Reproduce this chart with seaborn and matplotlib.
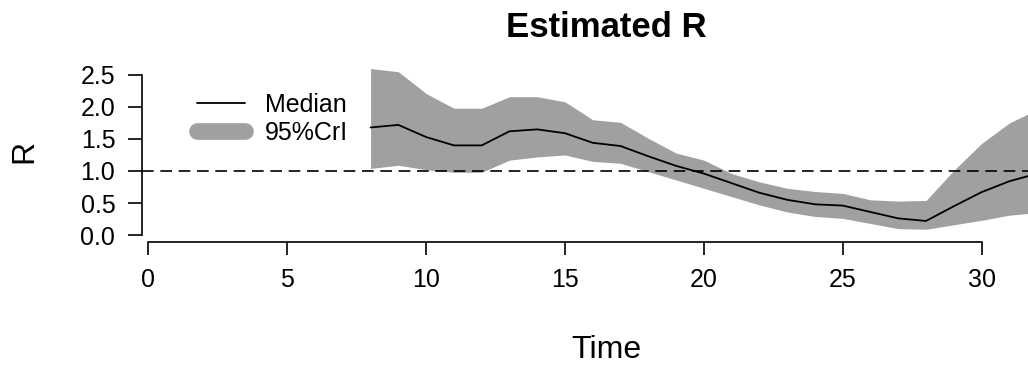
import matplotlib
matplotlib.use("Agg")
import matplotlib.pyplot as plt
from matplotlib.lines import Line2D
import seaborn as sns
import pandas as pd

# ---- data ----
time = [8, 9, 10, 11, 12, 13, 14, 15, 16, 17, 18, 19, 20,
        21, 22, 23, 24, 25, 26, 27, 28, 29, 30, 31, 32]
median_r = [1.68, 1.72, 1.53, 1.40, 1.40, 1.62, 1.65, 1.59, 1.44, 1.39, 1.23, 1.08, 0.96,
            0.81, 0.66, 0.55, 0.48, 0.46, 0.36, 0.26, 0.22, 0.45, 0.67, 0.84, 0.96]
upper_r = [2.60, 2.55, 2.21, 1.98, 1.98, 2.16, 2.16, 2.08, 1.80, 1.76, 1.51, 1.28, 1.17,
           0.96, 0.83, 0.73, 0.68, 0.65, 0.55, 0.53, 0.54, 1.01, 1.43, 1.75, 1.96]
lower_r = [1.04, 1.09, 1.02, 0.98, 0.98, 1.17, 1.22, 1.25, 1.15, 1.12, 0.99, 0.86, 0.73,
           0.60, 0.47, 0.36, 0.29, 0.26, 0.18, 0.10, 0.09, 0.16, 0.23, 0.31, 0.35]
x_ticks = [0, 5, 10, 15, 20, 25, 30]
y_ticks = [0.0, 0.5, 1.0, 1.5, 2.0, 2.5]
threshold = 1.0

df = pd.DataFrame({"Time": time, "Median": median_r, "Upper": upper_r, "Lower": lower_r})

sns.set_style("ticks")
plt.rcParams["font.family"] = ["Liberation Sans", "DejaVu Sans"]
plt.rcParams["text.color"] = "black"
plt.rcParams["axes.labelcolor"] = "black"

band_color = "#A0A0A0"

fig = plt.figure(figsize=(10.28, 3.69), dpi=100)
ax = fig.add_axes([0.1379, 0.345, 0.9045, 0.4873])

ax.fill_between(df["Time"], df["Lower"], df["Upper"], color=band_color, linewidth=0, zorder=1)
sns.lineplot(data=df, x="Time", y="Median", color="black", linewidth=1.3, ax=ax, zorder=3)
ax.axhline(threshold, color="black", linewidth=1.2, dashes=(7, 4), zorder=4)

ax.set_xlim(-0.24, 33.24)
ax.set_ylim(-0.104, 2.704)
ax.set_xticks(x_ticks)
ax.set_xticklabels([str(v) for v in x_ticks])
ax.set_yticks(y_ticks)
ax.set_yticklabels([f"{v:.1f}" for v in y_ticks])

for side in ("top", "right"):
    ax.spines[side].set_visible(False)
ax.spines["left"].set_bounds(0, 2.5)
ax.spines["bottom"].set_bounds(0, 30)
for side in ("left", "bottom"):
    ax.spines[side].set_linewidth(1.2)
    ax.spines[side].set_color("black")

ax.tick_params(axis="x", direction="out", length=9, width=1.2, pad=10, labelsize=18,
               colors="black", labelcolor="black")
ax.tick_params(axis="y", direction="out", length=10, width=1.2, pad=9, labelsize=18,
               colors="black", labelcolor="black")

ax.set_title("Estimated R", fontsize=25, fontweight="bold", pad=18, color="black")
ax.set_xlabel("Time", fontsize=23, color="black")
ax.set_ylabel("R", fontsize=23, color="black")
ax.xaxis.set_label_coords(0.5, -0.519)
ax.yaxis.set_label_coords(-0.1100, 0.5)

handles = [Line2D([], [], color="black", linewidth=1.3),
           Line2D([], [], color=band_color, linewidth=12, solid_capstyle="round")]
leg = ax.legend(handles, ["Median", "95%CrI"], loc="upper left",
                bbox_to_anchor=(0.1916, 0.749), bbox_transform=fig.transFigure,
                frameon=False, fontsize=18, handlelength=1.92, handletextpad=0.8,
                labelspacing=0.16, borderpad=0, borderaxespad=0)
for t in leg.get_texts():
    t.set_color("black")

fig.savefig("out.png", dpi=100)
